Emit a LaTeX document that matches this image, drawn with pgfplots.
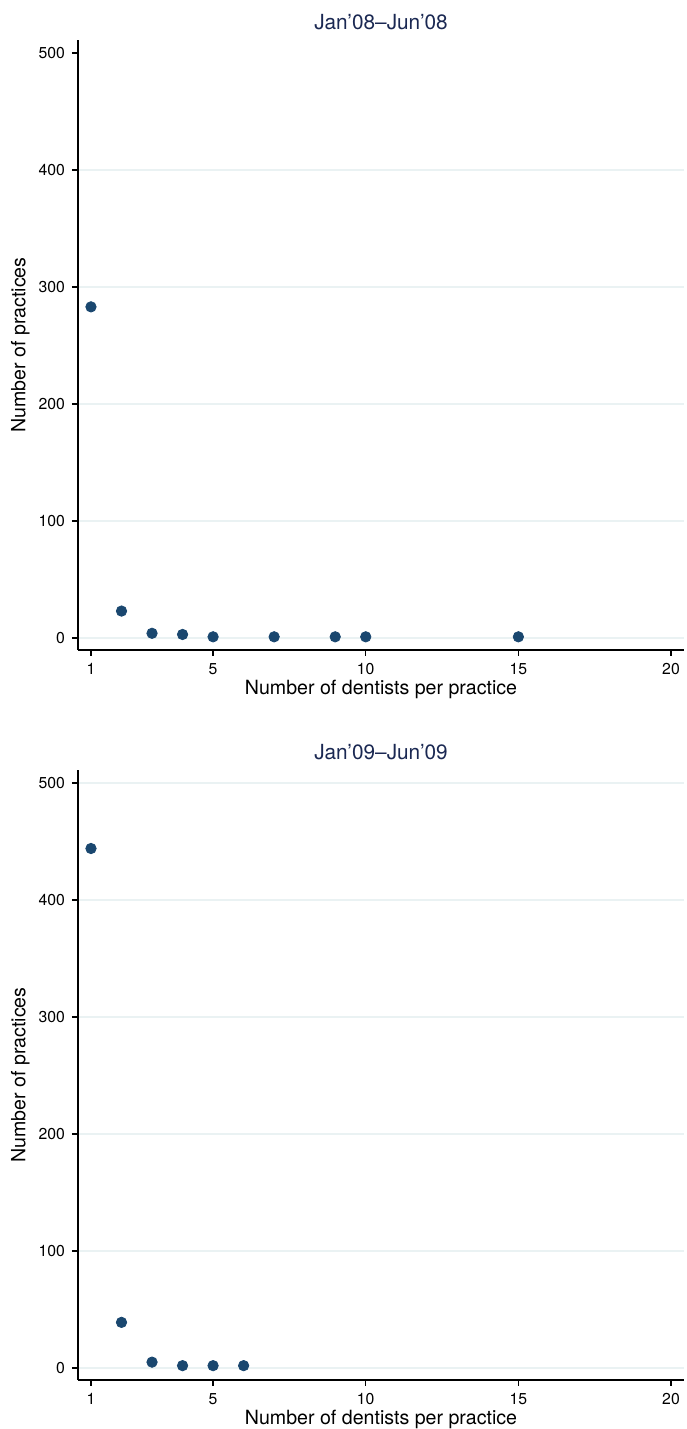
\documentclass[border=0pt]{standalone}
\usepackage{fontspec}
\setmainfont{TeX Gyre Heros}
\usepackage{pgfplots}
\pgfplotsset{compat=1.18}
\definecolor{stnavy}{HTML}{1A476F}
\definecolor{sttitle}{HTML}{1A2852}
\definecolor{stgrid}{HTML}{EAF2F3}
\pgfplotsset{
  panel/.style={
    scale only axis, width=303pt, height=305pt,
    xmin=0.575, xmax=20.425, ymin=-10.26, ymax=511.1,
    axis x line*=bottom, axis y line*=left,
    axis line style={-, line width=0.6pt, black},
    xtick={1,5,10,15,20},
    ytick={0,100,200,300,400,500},
    tick align=outside, major tick length=3pt,
    tick style={black, line width=0.6pt},
    ymajorgrids, grid style={stgrid, line width=0.6pt},
    tick label style={font=\fontsize{7.9}{9}\selectfont},
    /pgf/number format/assume math mode=true,
    label style={font=\fontsize{9.8}{12}\selectfont},
    xlabel={Number of dentists per practice},
    ylabel={Number of practices},
    xlabel style={yshift=4pt},
    ylabel style={at={(axis description cs:-0.095,0.5)}, anchor=center, rotate=0},
    title style={font=\fontsize{10.4}{12}\selectfont, text=sttitle, yshift=-4.5pt},
    clip=false,
  },
  dots/.style={only marks, mark=*, mark size=2.6pt,
    mark options={fill=stnavy, draw=stnavy}},
}
\begin{document}
\begin{tikzpicture}[x=1pt,y=1pt]
\useasboundingbox (0,0) rectangle (343,714.5);
% first half-year 2008
\begin{axis}[panel, at={(39pt,389.5pt)}, anchor=south west,
  title={Jan’08–Jun’08},
  ytick={0,100,200,300,400}, extra y ticks={500},
  extra tick style={grid=none}]
\addplot[dots] coordinates {
  (1,283) (2,23) (3,4) (4,3) (5,1) (7,1) (9,1) (10,1) (15,1)
};
\end{axis}
% first half-year 2009
\begin{axis}[panel, at={(39pt,24.5pt)}, anchor=south west,
  title={Jan’09–Jun’09}]
\addplot[dots] coordinates {
  (1,444) (2,39) (3,5) (4,2) (5,2) (6,2)
};
\end{axis}
\end{tikzpicture}
\end{document}
